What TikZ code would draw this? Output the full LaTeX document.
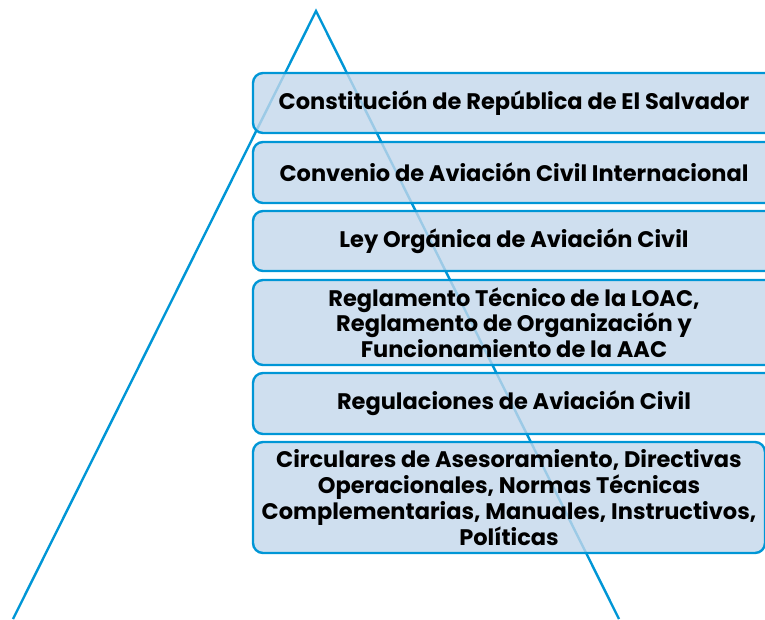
\documentclass[tikz,border=0pt]{standalone}
\usepackage{fontspec}
\setmainfont{Poppins}
\definecolor{lineblue}{RGB}{0,150,214}
\definecolor{boxfill}{RGB}{195,215,235}
\begin{document}
\begin{tikzpicture}[x=1pt,y=-1pt,
  level/.style={draw=lineblue, line width=2.4pt, rounded corners=10pt, fill=boxfill, fill opacity=0.8, text opacity=1, align=center, font=\fontsize{22.5}{25.8}\selectfont\bfseries, inner sep=0pt, minimum width=#1},
  level/.default=522,
  tri/.style={draw=lineblue, line width=2.4pt}]
\useasboundingbox (0,0) rectangle (765,619);
\coordinate (apex) at (316,11);
\coordinate (bl) at (13,619);
\coordinate (br) at (619,619);
\draw[tri] (bl) -- (apex) -- (br);
\begin{scope}
\clip (0,0) rectangle (765,619);
\node[level, minimum height=60pt] (n1) at (514,103) {Constitución de República de El Salvador};
\node[level, minimum height=61pt] (n2) at (514,172.5) {Convenio de Aviación Civil Internacional};
\node[level, minimum height=60pt] (n3) at (514,241) {Ley Orgánica de Aviación Civil};
\node[level, minimum height=85pt] (n4) at (514,322.5) {Reglamento Técnico de la LOAC,\\Reglamento de Organización y\\Funcionamiento de la AAC};
\node[level, minimum height=61pt] (n5) at (514,403.5) {Regulaciones de Aviación Civil};
\node[level=512, minimum height=111pt] (n6) at (509,497.5) {Circulares de Asesoramiento, Directivas\\Operacionales, Normas Técnicas\\Complementarias, Manuales, Instructivos,\\Políticas};
\end{scope}
\end{tikzpicture}
\end{document}
